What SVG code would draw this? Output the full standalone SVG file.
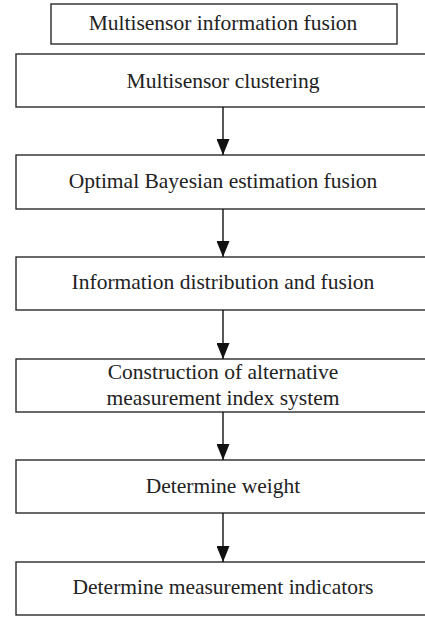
<svg xmlns="http://www.w3.org/2000/svg" width="425" height="618" viewBox="0 0 425 618">
<style>
.box{fill:#fff;stroke:#2a2a2a;stroke-width:1.4}
.t{font-family:"Liberation Serif","Times New Roman",serif;font-size:21.5px;fill:#222;text-anchor:middle}
.c{stroke:#111;stroke-width:1.4;fill:none}
</style>
<defs>
<marker id="ah" markerUnits="userSpaceOnUse" markerWidth="16" markerHeight="13" refX="16" refY="6.5" orient="auto">
<path d="M0,0 L16,6.5 L0,13 Z" fill="#111"/>
</marker>
</defs>
<rect width="425" height="618" fill="#fff"/>
<g id="n1"><rect class="box" x="51" y="4" width="346" height="40"/><text class="t" x="223" y="30">Multisensor information fusion</text></g>
<g id="n2"><rect class="box" x="16" y="54" width="414" height="53"/><text class="t" x="223" y="88">Multisensor clustering</text></g>
<g id="n3"><rect class="box" x="16" y="155" width="414" height="54"/><text class="t" x="223" y="188">Optimal Bayesian estimation fusion</text></g>
<g id="n4"><rect class="box" x="16" y="257" width="414" height="53"/><text class="t" x="223" y="289">Information distribution and fusion</text></g>
<g id="n5"><rect class="box" x="16" y="359" width="414" height="53"/><text class="t" x="223" y="379">Construction of alternative</text><text class="t" x="223" y="405">measurement index system</text></g>
<g id="n6"><rect class="box" x="16" y="460" width="414" height="53"/><text class="t" x="223" y="493">Determine weight</text></g>
<g id="n7"><rect class="box" x="16" y="562" width="414" height="53"/><text class="t" x="223" y="594">Determine measurement indicators</text></g>
<g id="connectors">
<line class="c" x1="223" y1="107" x2="223" y2="155" marker-end="url(#ah)"/>
<line class="c" x1="223" y1="209" x2="223" y2="257" marker-end="url(#ah)"/>
<line class="c" x1="223" y1="310" x2="223" y2="359" marker-end="url(#ah)"/>
<line class="c" x1="223" y1="412" x2="223" y2="460" marker-end="url(#ah)"/>
<line class="c" x1="223" y1="513" x2="223" y2="562" marker-end="url(#ah)"/>
</g>
</svg>
